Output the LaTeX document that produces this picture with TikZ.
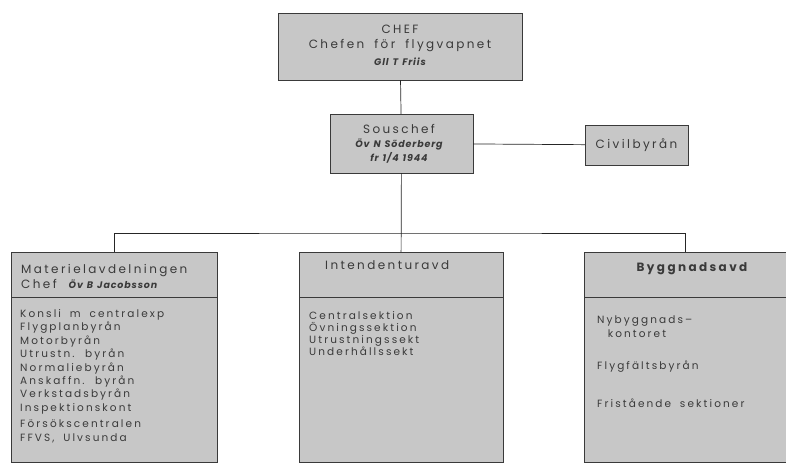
\documentclass[tikz,border=0pt]{standalone}
\usepackage{fontspec}
\setmainfont{Poppins}[LetterSpace=20,WordSpace=1.8]
\newfontfamily\namefont{Poppins}[LetterSpace=9,WordSpace=1.3]
\usetikzlibrary{positioning}
\definecolor{boxgray}{RGB}{199,199,199}
\definecolor{inkgray}{RGB}{58,58,58}
\newcommand{\who}[1]{{\namefont\fontsize{9.5}{11}\selectfont\bfseries\itshape #1}}

\begin{document}
\begin{tikzpicture}[x=1pt,y=-1pt,
    box/.style={draw=inkgray,fill=boxgray,inner sep=0pt},
    txt/.style={text=inkgray,inner sep=0pt,font=\fontsize{12}{15}\selectfont},
    list/.style={text=inkgray,inner sep=0pt,anchor=west,align=left,font=\fontsize{10.5}{13.4}\selectfont},
    link/.style={draw=black!85,line width=0.7pt}
]
\useasboundingbox (0,0) rectangle (786,463);

% top of the chart
\node[box,minimum width=244,minimum height=67] (chef) at (400,46.5) {};
\node[txt,align=center] (chefT) at (400,45) {CHEF\\Chefen för flygvapnet\\[2pt]\who{Gll T Friis}};
\node[box,minimum width=143,minimum height=59] (sous) at (401.5,143.5) {};
\node[txt,align=center] (sousT) at (399,144) {Souschef\\[-1pt]\who{Öv N Söderberg}\\[-1pt]\who{fr 1/4 1944}};
\node[box,minimum width=103,minimum height=40] (civil) at (636.5,145) {};
\node[txt] (civilT) at (636.5,145) {Civilbyrån};

% departments
\node[box,minimum width=206,minimum height=45] (matH)  at (114.5,274.5) {};
\node[box,minimum width=206,minimum height=165] (matB) at (114.5,379.5) {};
\node[box,minimum width=204,minimum height=45] (intH)  at (401,274.5) {};
\node[box,minimum width=204,minimum height=165] (intB) at (401,379.5) {};
\node[box,minimum width=202,minimum height=45] (byggH) at (685,274.5) {};
\node[box,minimum width=202,minimum height=165] (byggB) at (685,379.5) {};

\node[txt,anchor=west,align=left] (matT) at (21,276.5) {Materielavdelningen\\Chef\quad\who{Öv B Jacobsson}};
\node[txt,anchor=west] (intT) at (325,265) {Intendenturavd};
\node[txt,font=\fontsize{12}{15}\selectfont\bfseries] (byggT) at (692,269) {Byggnadsavd};

\node[list] (matL) at (20,376) {Konsli m centralexp\\Flygplanbyrån\\Motorbyrån\\Utrustn. byrån\\Normaliebyrån\\Anskaffn. byrån\\Verkstadsbyrån\\Inspektionskont\\[3pt]Försökscentralen\\ FFVS, Ulvsunda};
\node[list,font=\fontsize{10.5}{11.8}\selectfont] (intL) at (309,333.5) {Centralsektion\\Övningssektion\\Utrustningssekt\\Underhållssekt};
\node[list] (byggL1) at (597,326.5) {Nybyggnads--\\\ \,kontoret};
\node[list] (byggL2) at (597,367) {Flygfältsbyrån};
\node[list] (byggL3) at (597,403) {Fristående sektioner};

% connectors
\coordinate (bar) at (401,233);
\draw[link] (chef) -- (sous);
\draw[link] (sous) -- (civil);
\draw[link] (sous) -- (intH);
\draw[link] (matH.north) |- (bar) -| (byggH.north);
\end{tikzpicture}
\end{document}
